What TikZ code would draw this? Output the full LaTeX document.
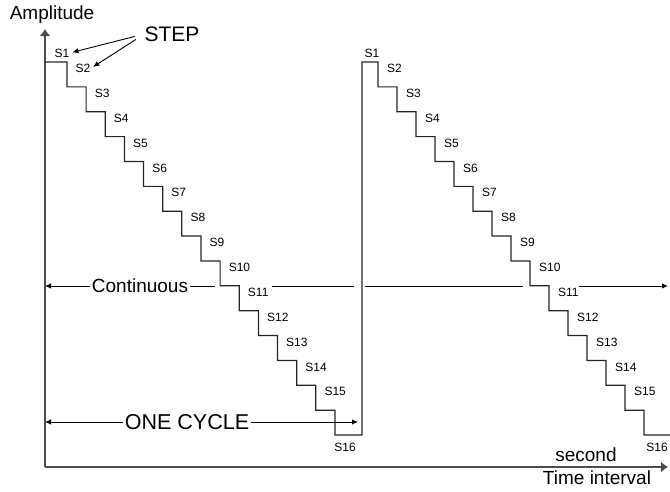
\documentclass[tikz,border=0pt]{standalone}
\usepackage{fontspec}
\setmainfont{Liberation Sans}
\usetikzlibrary{arrows.meta}

\begin{document}
\begin{tikzpicture}[x=1pt, y=-1pt,
  stair/.style={draw=black!85, line width=1.2pt},
  axis/.style={draw=black!70, line width=1.7pt},
  lbl/.style={font=\fontsize{12}{14}\selectfont, inner sep=0pt},
  big/.style={font=\fontsize{19}{22}\selectfont, inner sep=2pt},
  tip/.style={line width=0.9pt, -{Latex[length=6pt,width=5.5pt]}}]
\useasboundingbox (0,0) rectangle (670,491);

% axes
\coordinate (O) at (45,467);
\coordinate (ytop) at (45,29);
\coordinate (xend) at (668,467);
\draw[axis, -{Latex[length=7pt,width=11pt]}] (O) -- (ytop);
\draw[axis, -{Latex[length=7pt,width=11pt]}] (O) -- (xend);
\node[big] (amp) at (52,15) {Amplitude};
\node[big] (sec) at (586,455) {second};
\node[big] (time) at (597,478) {Time interval};

% two cycles of steps
\draw[stair] (45,62)
  \foreach \k in {2,...,16}{ -| ({67+(\k-2)*19.14},{62+(\k-1)*24.87}) }
  -- (362,435) -- (362,62)
  \foreach \k in {2,...,16}{ -| ({378+(\k-2)*19},{62+(\k-1)*24.87}) }
  -- (670,435);

\node[lbl] (a1) at (62,53) {S1};
\node[lbl] (b1) at (372,53) {S1};
\foreach \k in {2,...,15}{
  \node[lbl, anchor=west] (a\k) at ({67+(\k-2)*19.14+8.5},{62+(\k-2)*24.87+6.5}) {S\k};
  \node[lbl, anchor=west] (b\k) at ({378+(\k-2)*19+9},{62+(\k-2)*24.87+6.5}) {S\k};
}
\node[lbl] (a16) at (345,447) {S16};
\node[lbl] (b16) at (657,447) {S16};

% step pointer
\node[font=\fontsize{21}{24}\selectfont, inner sep=0pt] (step) at (172,34) {STEP};
\draw[tip, shorten <=10pt, shorten >=3pt] (step.west) -- (a1.east);
\draw[tip, shorten <=10pt, shorten >=3pt] (step.west) -- (a2.east);

% continuous line
\node[big] (cont) at (140,286) {Continuous};
\coordinate (c0) at (45,286);
\coordinate (c1) at (215,286);
\coordinate (c2) at (272,286);
\coordinate (c3) at (354,286);
\coordinate (c4) at (365,286);
\coordinate (c5) at (523,286);
\coordinate (c6) at (579,286);
\coordinate (c7) at (668,286);
\draw[tip] (cont.west) -- (c0);
\draw[line width=0.9pt] (cont.east) -- (c1);
\draw[line width=0.9pt] (c2) -- (c3);
\draw[line width=0.9pt] (c4) -- (c5);
\draw[tip] (c6) -- (c7);

% one cycle
\node[font=\fontsize{21.5}{24}\selectfont, inner sep=2pt] (cyc) at (187,422) {ONE CYCLE};
\coordinate (d0) at (45,422);
\coordinate (d1) at (358,422);
\draw[tip] (cyc.west) -- (d0);
\draw[tip] (cyc.east) -- (d1);
\end{tikzpicture}
\end{document}
